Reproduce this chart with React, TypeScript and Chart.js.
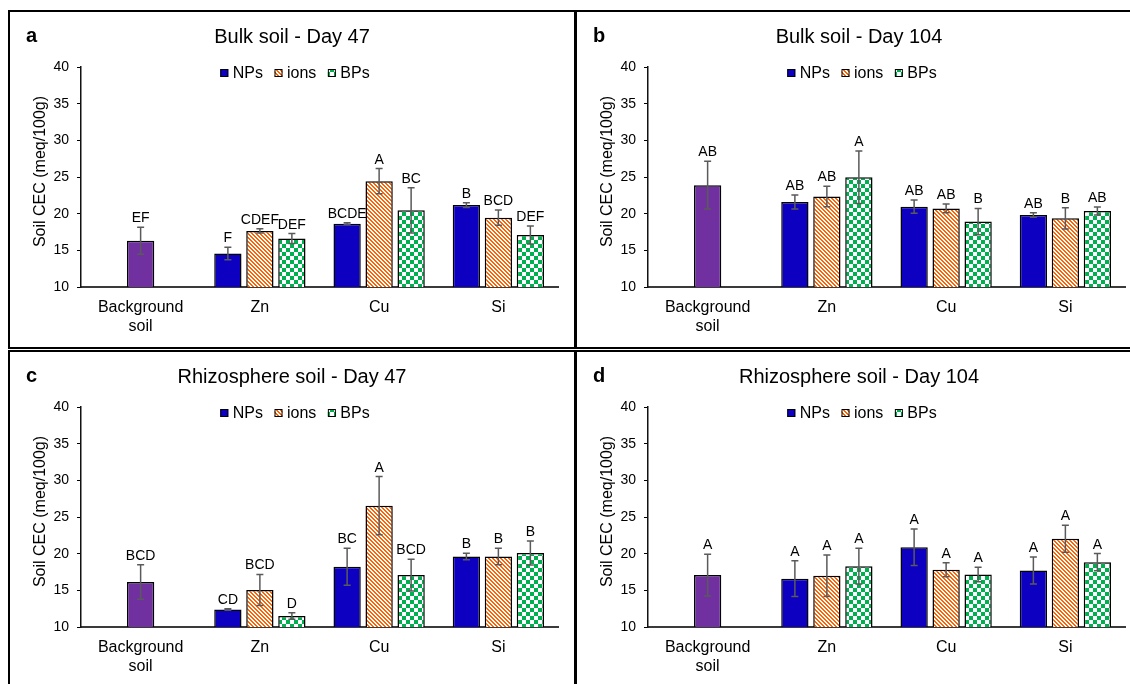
import React, { useEffect, useRef } from "react";
import { Chart, registerables } from "chart.js";

Chart.register(...registerables);

const FONT = "'Liberation Sans', Arial, Helvetica, sans-serif";

const categories = [["Background", "soil"], "Zn", "Cu", "Si"];
const seriesNames = ["NPs", "ions", "BPs"];
const yMin = 10;
const yMax = 40;
const yStep = 5;

// Panel a – Bulk soil, Day 47
const aBackground = [16.3];
const aBackgroundErr = [1.85];
const aBackgroundSig = ["EF"];
const aNPs = [14.57, 18.64, 21.17];
const aNPsErr = [0.84, 0.12, 0.32];
const aNPsSig = ["F", "BCDE", "B"];
const aIons = [17.65, 24.43, 19.46];
const aIonsErr = [0.3, 1.72, 1.04];
const aIonsSig = ["CDEF", "A", "BCD"];
const aBPs = [16.6, 20.45, 17.1];
const aBPsErr = [0.68, 3.08, 1.22];
const aBPsSig = ["DEF", "BC", "DEF"];

// Panel b – Bulk soil, Day 104
const bBackground = [23.89];
const bBackgroundErr = [3.26];
const bBackgroundSig = ["AB"];
const bNPs = [21.58, 20.95, 19.82];
const bNPsErr = [0.95, 0.9, 0.32];
const bNPsSig = ["AB", "AB", "AB"];
const bIons = [22.35, 20.72, 19.37];
const bIonsErr = [1.4, 0.59, 1.45];
const bIonsSig = ["AB", "AB", "B"];
const bBPs = [24.97, 18.92, 20.36];
const bBPsErr = [3.58, 1.8, 0.54];
const bBPsSig = ["A", "B", "AB"];

// Panel c – Rhizosphere soil, Day 47
const cBackground = [16.13];
const cBackgroundErr = [2.35];
const cBackgroundSig = ["BCD"];
const cNPs = [12.39, 18.21, 19.61];
const cNPsErr = [0.1, 2.53, 0.45];
const cNPsSig = ["CD", "BC", "B"];
const cIons = [15.05, 26.55, 19.61];
const cIonsErr = [2.12, 3.97, 1.13];
const cIonsSig = ["BCD", "A", "B"];
const cBPs = [11.49, 17.08, 20.1];
const cBPsErr = [0.45, 2.17, 1.63];
const cBPsSig = ["D", "BCD", "B"];

// Panel d – Rhizosphere soil, Day 104
const dBackground = [17.08];
const dBackgroundErr = [2.84];
const dBackgroundSig = ["A"];
const dNPs = [16.59, 20.87, 17.71];
const dNPsErr = [2.43, 2.48, 1.85];
const dNPsSig = ["A", "A", "A"];
const dIons = [16.99, 17.8, 22.04];
const dIonsErr = [2.84, 0.95, 1.85];
const dIonsSig = ["A", "A", "A"];
const dBPs = [18.3, 17.17, 18.84];
const dBPsErr = [2.44, 0.99, 1.17];
const dBPsSig = ["A", "A", "A"];

const COLORS = {
  background: "#7030A0",
  nps: "#0E00C0",
  ions: "#FF6200",
  bps: "#00B050",
};

function makeStripe(color: string) {
  const c = document.createElement("canvas");
  c.width = 4;
  c.height = 4;
  const g = c.getContext("2d")!;
  g.fillStyle = "#ffffff";
  g.fillRect(0, 0, 4, 4);
  g.fillStyle = color;
  for (let y = 0; y < 4; y++) {
    for (let x = 0; x < 4; x++) {
      if ((((x - y) % 4) + 4) % 4 < 2) g.fillRect(x, y, 1, 1);
    }
  }
  return g.createPattern(c, "repeat")!;
}

function makeChecker(color: string) {
  const c = document.createElement("canvas");
  c.width = 8;
  c.height = 8;
  const g = c.getContext("2d")!;
  g.fillStyle = "#ffffff";
  g.fillRect(0, 0, 8, 8);
  g.fillStyle = color;
  g.fillRect(0, 0, 4, 4);
  g.fillRect(4, 4, 4, 4);
  return g.createPattern(c, "repeat")!;
}

const decoPlugin = {
  id: "panelDeco",
  afterDatasetsDraw(chart: any) {
    const ctx = chart.ctx;
    const y = chart.scales.y;
    ctx.save();
    chart.data.datasets.forEach((ds: any, di: number) => {
      const meta = chart.getDatasetMeta(di);
      meta.data.forEach((bar: any, i: number) => {
        const v = ds.data[i];
        if (v === null || v === undefined) return;
        const e = ds.errors[i] || 0;
        const top = y.getPixelForValue(v + e);
        const bot = y.getPixelForValue(v - e);
        const x = bar.x;
        ctx.strokeStyle = "#5a5a5a";
        ctx.lineWidth = 1.5;
        ctx.beginPath();
        ctx.moveTo(x, top);
        ctx.lineTo(x, bot);
        ctx.moveTo(x - 3.5, top);
        ctx.lineTo(x + 3.5, top);
        ctx.moveTo(x - 3.5, bot);
        ctx.lineTo(x + 3.5, bot);
        ctx.stroke();
        const s = ds.sig[i];
        if (s) {
          ctx.fillStyle = "#000";
          ctx.font = `14px ${FONT}`;
          ctx.textAlign = "center";
          ctx.textBaseline = "alphabetic";
          ctx.fillText(s, x, top - 5);
        }
      });
    });
    ctx.restore();
  },
  afterDraw(chart: any, _args: any, opts: any) {
    const ctx = chart.ctx;
    ctx.save();
    ctx.fillStyle = "#000";
    // panel letter
    ctx.font = `bold 20px ${FONT}`;
    ctx.textAlign = "left";
    ctx.textBaseline = "alphabetic";
    ctx.fillText(opts.letter, 16, 30);
    // title
    ctx.font = `20px ${FONT}`;
    ctx.textAlign = "center";
    ctx.fillText(opts.title, 282, 30.5);
    // y-axis title
    ctx.save();
    ctx.translate(35, 159.5);
    ctx.rotate(-Math.PI / 2);
    ctx.font = `16px ${FONT}`;
    ctx.textAlign = "center";
    ctx.textBaseline = "alphabetic";
    ctx.fillText(opts.yTitle, 0, 0);
    ctx.restore();
    // legend
    ctx.font = `16px ${FONT}`;
    const box = 8;
    const boxGap = 4.5;
    const itemGap = 11.5;
    const items = chart.data.datasets.slice(0, 3);
    const widths = items.map((d: any) => box + boxGap + ctx.measureText(d.label).width);
    const total = widths.reduce((a: number, b: number) => a + b, 0) + itemGap * (items.length - 1);
    let x = 285 - total / 2;
    const cy = 61;
    items.forEach((d: any, i: number) => {
      ctx.fillStyle = d.backgroundColor;
      ctx.fillRect(x, cy - box / 2, box, box);
      ctx.strokeStyle = "#000";
      ctx.lineWidth = 1;
      ctx.strokeRect(x + 0.5, cy - box / 2 + 0.5, box - 1, box - 1);
      ctx.fillStyle = "#000";
      ctx.textAlign = "left";
      ctx.textBaseline = "middle";
      ctx.fillText(d.label, x + box + boxGap, cy + 1);
      x += widths[i] + itemGap;
    });
    ctx.restore();
  },
};

type PanelProps = {
  letter: string;
  title: string;
  left: number;
  top: number;
  width: number;
  height: number;
  bg: number[];
  bgErr: number[];
  bgSig: string[];
  nps: number[];
  npsErr: number[];
  npsSig: string[];
  ions: number[];
  ionsErr: number[];
  ionsSig: string[];
  bps: number[];
  bpsErr: number[];
  bpsSig: string[];
};

function Panel(p: PanelProps) {
  const ref = useRef<HTMLCanvasElement | null>(null);
  useEffect(() => {
    if (!ref.current) return;
    const stripe = makeStripe(COLORS.ions);
    const checker = makeChecker(COLORS.bps);
    const chart = new Chart(ref.current, {
      type: "bar",
      data: {
        labels: categories as any,
        datasets: [
          {
            label: seriesNames[0],
            data: [null, ...p.nps],
            backgroundColor: COLORS.nps,
            errors: [0, ...p.npsErr],
            sig: ["", ...p.npsSig],
          } as any,
          {
            label: seriesNames[1],
            data: [null, ...p.ions],
            backgroundColor: stripe,
            errors: [0, ...p.ionsErr],
            sig: ["", ...p.ionsSig],
          } as any,
          {
            label: seriesNames[2],
            data: [null, ...p.bps],
            backgroundColor: checker,
            errors: [0, ...p.bpsErr],
            sig: ["", ...p.bpsSig],
          } as any,
          {
            label: "Background soil",
            data: [p.bg[0], null, null, null],
            backgroundColor: COLORS.background,
            errors: [p.bgErr[0], 0, 0, 0],
            sig: [p.bgSig[0], "", "", ""],
          } as any,
        ],
      },
      options: {
        responsive: false,
        maintainAspectRatio: false,
        animation: false,
        devicePixelRatio: 1,
        events: [],
        layout: { padding: { left: 0, top: 55, right: 16, bottom: 0 } },
        datasets: {
          bar: {
            categoryPercentage: 0.805,
            barPercentage: 0.853,
            maxBarThickness: 27.3,
            skipNull: true,
            borderColor: "#000",
            borderWidth: 1.5,
            borderSkipped: false,
          },
        } as any,
        scales: {
          x: {
            grid: { display: false, drawTicks: false },
            border: { display: true, color: "#3a3a3a", width: 2 },
            ticks: {
              font: { family: FONT, size: 16 },
              color: "#000",
              padding: 11,
              autoSkip: false,
              maxRotation: 0,
              minRotation: 0,
            },
            afterFit: (s: any) => {
              s.height = 60;
            },
          },
          y: {
            min: yMin,
            max: yMax,
            ticks: {
              stepSize: yStep,
              font: { family: FONT, size: 14 },
              color: "#000",
              padding: 8,
            },
            grid: {
              display: true,
              drawOnChartArea: false,
              drawTicks: true,
              tickLength: 4,
              color: "#000",
              tickColor: "#000",
            },
            border: { display: true, color: "#111", width: 1.5 },
            afterFit: (s: any) => {
              s.width = 71;
            },
          },
        },
        plugins: {
          legend: { display: false },
          tooltip: { enabled: false },
          panelDeco: {
            letter: p.letter,
            title: p.title,
            yTitle: "Soil CEC (meq/100g)",
          },
        } as any,
      },
      plugins: [decoPlugin as any],
    });
    return () => chart.destroy();
  }, []);

  return (
    <div
      style={{
        position: "absolute",
        left: p.left,
        top: p.top,
        width: p.width,
        height: p.height,
        border: "2px solid #000",
        boxSizing: "border-box",
        background: "#fff",
        overflow: "hidden",
      }}
    >
      <canvas
        ref={ref}
        width={564}
        height={335}
        style={{ display: "block", width: 564, height: 335 }}
      />
    </div>
  );
}

export default function App() {
  return (
    <div
      style={{
        position: "absolute",
        left: 0,
        top: 0,
        width: 1130,
        height: 684,
        overflow: "hidden",
        background: "#fff",
      }}
    >
      <Panel
        letter="a"
        title="Bulk soil - Day 47"
        left={8}
        top={10}
        width={568}
        height={339}
        bg={aBackground}
        bgErr={aBackgroundErr}
        bgSig={aBackgroundSig}
        nps={aNPs}
        npsErr={aNPsErr}
        npsSig={aNPsSig}
        ions={aIons}
        ionsErr={aIonsErr}
        ionsSig={aIonsSig}
        bps={aBPs}
        bpsErr={aBPsErr}
        bpsSig={aBPsSig}
      />
      <Panel
        letter="b"
        title="Bulk soil - Day 104"
        left={575}
        top={10}
        width={600}
        height={339}
        bg={bBackground}
        bgErr={bBackgroundErr}
        bgSig={bBackgroundSig}
        nps={bNPs}
        npsErr={bNPsErr}
        npsSig={bNPsSig}
        ions={bIons}
        ionsErr={bIonsErr}
        ionsSig={bIonsSig}
        bps={bBPs}
        bpsErr={bBPsErr}
        bpsSig={bBPsSig}
      />
      <Panel
        letter="c"
        title="Rhizosphere soil - Day 47"
        left={8}
        top={350}
        width={568}
        height={400}
        bg={cBackground}
        bgErr={cBackgroundErr}
        bgSig={cBackgroundSig}
        nps={cNPs}
        npsErr={cNPsErr}
        npsSig={cNPsSig}
        ions={cIons}
        ionsErr={cIonsErr}
        ionsSig={cIonsSig}
        bps={cBPs}
        bpsErr={cBPsErr}
        bpsSig={cBPsSig}
      />
      <Panel
        letter="d"
        title="Rhizosphere soil - Day 104"
        left={575}
        top={350}
        width={600}
        height={400}
        bg={dBackground}
        bgErr={dBackgroundErr}
        bgSig={dBackgroundSig}
        nps={dNPs}
        npsErr={dNPsErr}
        npsSig={dNPsSig}
        ions={dIons}
        ionsErr={dIonsErr}
        ionsSig={dIonsSig}
        bps={dBPs}
        bpsErr={dBPsErr}
        bpsSig={dBPsSig}
      />
    </div>
  );
}
